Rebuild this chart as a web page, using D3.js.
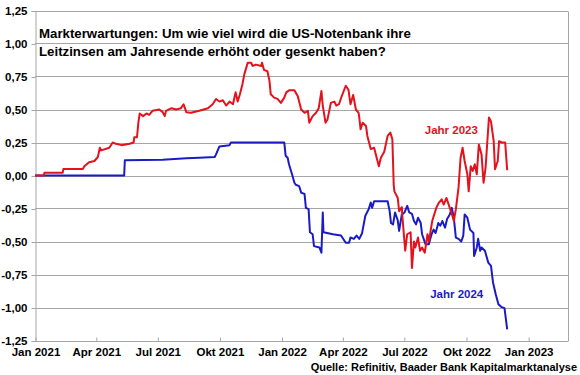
<!DOCTYPE html>
<html>
<head>
<meta charset="utf-8">
<script src="https://cdn.jsdelivr.net/npm/d3@7"></script>
<style>
  html, body { margin: 0; padding: 0; background: #fff; }
  svg { display: block; font-family: "Liberation Sans", Arial, sans-serif; }
</style>
</head>
<body>
<svg id="chart" width="580" height="375"></svg>
<script>
// ---- Data ----
const titleLines = [
  "Markterwartungen: Um wie viel wird die US-Notenbank ihre",
  "Leitzinsen am Jahresende erhöht oder gesenkt haben?"
];
const sourceText = "Quelle: Refinitiv, Baader Bank Kapitalmarktanalyse";

const yTicks = [1.25, 1.0, 0.75, 0.5, 0.25, 0, -0.25, -0.5, -0.75, -1.0, -1.25];
const xTickDates = ["2021-01-01","2021-04-01","2021-07-01","2021-10-01","2022-01-01",
                    "2022-04-01","2022-07-01","2022-10-01","2023-01-01"];
const xTickLabels = ["Jan 2021","Apr 2021","Jul 2021","Okt 2021","Jan 2022",
                     "Apr 2022","Jul 2022","Okt 2022","Jan 2023"];
const xDomain = ["2021-01-01", "2023-03-01"];
const yDomain = [-1.25, 1.25];

// Jahr 2023 (red)
const dates2023 = [
  "2021-01-01","2021-01-14","2021-01-15","2021-02-11","2021-02-12","2021-03-13","2021-03-15","2021-03-22",
  "2021-03-30","2021-04-04","2021-04-07","2021-04-09","2021-04-21","2021-04-26","2021-05-01","2021-05-09",
  "2021-05-21","2021-05-27","2021-05-28","2021-06-01","2021-06-03","2021-06-05","2021-06-10","2021-06-15",
  "2021-06-19","2021-06-24","2021-07-04","2021-07-09","2021-07-12","2021-07-14","2021-07-22","2021-07-29",
  "2021-08-05","2021-08-09","2021-08-13","2021-08-20","2021-09-01","2021-09-14","2021-09-21","2021-09-26",
  "2021-10-01","2021-10-06","2021-10-11","2021-10-16","2021-10-21","2021-10-25","2021-10-28","2021-10-31",
  "2021-11-04","2021-11-07","2021-11-12","2021-11-17","2021-11-19","2021-11-24","2021-12-02","2021-12-03",
  "2021-12-06","2021-12-11","2021-12-14","2021-12-16","2021-12-21","2021-12-26","2021-12-31","2022-01-05",
  "2022-01-08","2022-01-12","2022-01-20","2022-01-25","2022-01-30","2022-02-04","2022-02-09","2022-02-11",
  "2022-02-16","2022-02-21","2022-02-25","2022-03-01","2022-03-03","2022-03-07","2022-03-10","2022-03-15",
  "2022-03-20","2022-03-23","2022-03-27","2022-03-31","2022-04-06","2022-04-10","2022-04-13","2022-04-17",
  "2022-04-21","2022-04-25","2022-04-26","2022-04-28","2022-05-01","2022-05-06","2022-05-08","2022-05-13",
  "2022-05-18","2022-05-23","2022-05-25","2022-05-28","2022-06-02","2022-06-07","2022-06-11","2022-06-14",
  "2022-06-16","2022-06-17","2022-06-22","2022-06-24","2022-06-28","2022-06-29","2022-07-03","2022-07-06",
  "2022-07-11","2022-07-13","2022-07-16","2022-07-18","2022-07-22","2022-07-25","2022-07-28","2022-08-01",
  "2022-08-05","2022-08-07","2022-08-12","2022-08-18","2022-08-22","2022-08-26","2022-08-29","2022-09-02",
  "2022-09-06","2022-09-10","2022-09-13","2022-09-16","2022-09-20","2022-09-23","2022-09-26","2022-09-29",
  "2022-10-03","2022-10-05","2022-10-08","2022-10-11","2022-10-14","2022-10-17","2022-10-20","2022-10-24",
  "2022-10-27","2022-10-30","2022-11-04","2022-11-07","2022-11-11","2022-11-13","2022-11-17","2022-11-19",
  "2022-11-23","2022-11-28","2022-12-01"
];
const values2023 = [
  0.00,0.00,0.02,0.02,0.05,0.05,0.07,0.10,
  0.11,0.14,0.21,0.19,0.21,0.25,0.24,0.23,
  0.24,0.25,0.29,0.29,0.40,0.47,0.45,0.47,
  0.46,0.49,0.50,0.48,0.45,0.49,0.51,0.50,
  0.51,0.54,0.48,0.475,0.49,0.51,0.54,0.58,
  0.56,0.57,0.53,0.56,0.54,0.63,0.56,0.61,
  0.69,0.77,0.855,0.855,0.83,0.84,0.83,0.855,
  0.80,0.79,0.72,0.615,0.59,0.58,0.55,0.59,
  0.63,0.645,0.645,0.60,0.50,0.475,0.49,0.40,
  0.45,0.475,0.51,0.64,0.53,0.40,0.425,0.55,
  0.56,0.53,0.54,0.60,0.68,0.65,0.54,0.61,
  0.50,0.475,0.44,0.35,0.40,0.375,0.30,0.20,
  0.21,0.11,0.07,0.135,0.18,0.30,0.325,0.275,
  -0.07,-0.12,-0.17,-0.27,-0.24,-0.32,-0.57,-0.445,
  -0.43,-0.70,-0.50,-0.545,-0.47,-0.57,-0.545,-0.585,
  -0.445,-0.50,-0.345,-0.245,-0.205,-0.18,-0.22,-0.17,
  -0.23,-0.29,-0.345,-0.255,-0.09,0.135,0.21,0.11,
  0.01,-0.12,0.07,0.035,0.085,0.01,0.235,0.16,
  -0.055,0.06,0.44,0.41,0.26,0.047,0.11,0.26,
  0.25,0.25,0.04
];

// Jahr 2024 (blue)
const dates2024 = [
  "2021-01-01","2021-05-13","2021-05-14","2021-07-09","2021-08-13","2021-09-01","2021-09-24","2021-09-26",
  "2021-10-01","2021-10-16","2021-10-18","2022-01-05","2022-01-07","2022-01-10","2022-01-12","2022-01-17",
  "2022-01-20","2022-01-22","2022-01-27","2022-01-30","2022-02-04","2022-02-06","2022-02-10","2022-02-12",
  "2022-02-16","2022-02-18","2022-02-26","2022-03-01","2022-03-03","2022-03-04","2022-03-18","2022-03-30",
  "2022-04-06","2022-04-11","2022-04-13","2022-04-18","2022-04-22","2022-04-26","2022-04-30","2022-05-05",
  "2022-05-10","2022-05-13","2022-05-15","2022-05-18","2022-06-07","2022-06-10","2022-06-12","2022-06-15",
  "2022-06-18","2022-06-22","2022-06-24","2022-06-28","2022-07-02","2022-07-06","2022-07-09","2022-07-13",
  "2022-07-16","2022-07-19","2022-07-22","2022-07-26","2022-07-28","2022-08-02","2022-08-07","2022-08-11",
  "2022-08-14","2022-08-17","2022-08-21","2022-08-24","2022-08-27","2022-08-31","2022-09-03","2022-09-07",
  "2022-09-10","2022-09-13","2022-09-16","2022-09-20","2022-09-24","2022-09-27","2022-09-29","2022-10-03",
  "2022-10-07","2022-10-12","2022-10-13","2022-10-17","2022-10-19","2022-10-22","2022-10-24","2022-10-29",
  "2022-11-03","2022-11-07","2022-11-10","2022-11-14","2022-11-18","2022-11-22","2022-11-27","2022-12-01"
];
const values2024 = [
  0.00,0.00,0.115,0.12,0.13,0.135,0.14,0.16,
  0.22,0.23,0.25,0.25,0.15,0.135,0.085,0.00,
  -0.055,-0.07,-0.08,-0.13,-0.14,-0.245,-0.255,-0.43,
  -0.445,-0.535,-0.545,-0.585,-0.28,-0.43,-0.445,-0.455,
  -0.51,-0.51,-0.47,-0.48,-0.455,-0.48,-0.44,-0.305,
  -0.255,-0.205,-0.245,-0.195,-0.195,-0.27,-0.36,-0.37,
  -0.28,-0.34,-0.42,-0.295,-0.28,-0.23,-0.28,-0.29,
  -0.345,-0.37,-0.32,-0.36,-0.445,-0.52,-0.52,-0.445,
  -0.41,-0.435,-0.36,-0.38,-0.345,-0.395,-0.33,-0.295,
  -0.245,-0.32,-0.47,-0.48,-0.50,-0.455,-0.295,-0.32,
  -0.41,-0.435,-0.61,-0.545,-0.48,-0.57,-0.545,-0.57,
  -0.66,-0.685,-0.81,-0.90,-0.975,-0.995,-1.005,-1.165
];

const seriesNames = ["Jahr 2023", "Jahr 2024"];
const seriesColors = ["#e3121c", "#1b1bc6"];
const labelDates = ["2022-08-01", "2022-08-09"];
const labelValues = [0.317, -0.928];

// ---- Chart ----
const svg = d3.select("#chart");
const parse = d3.utcParse("%Y-%m-%d");
const margin = { left: 35, right: 12, top: 10.5, bottom: 34.5 };
const W = 580, H = 375;
const FONT = '"Liberation Sans", Arial, sans-serif';

const x = d3.scaleUtc()
  .domain(xDomain.map(parse))
  .range([margin.left, W - margin.right]);
const y = d3.scaleLinear()
  .domain(yDomain)
  .range([H - margin.bottom, margin.top]);

const grid = "#a6a6a6";
const fmt = v => d3.format(".2f")(v).replace(".", ",").replace("−", "-");

// gridlines
svg.append("g").selectAll("line").data(yTicks).join("line")
  .attr("x1", margin.left).attr("x2", W - margin.right)
  .attr("y1", d => Math.round(y(d)) + 0.5).attr("y2", d => Math.round(y(d)) + 0.5)
  .attr("stroke", grid).attr("stroke-width", 1);

// right border
svg.append("line")
  .attr("x1", W - margin.right + 0.5).attr("x2", W - margin.right + 0.5)
  .attr("y1", Math.round(y(1.25)) + 0.5).attr("y2", Math.round(y(-1.25)) + 0.5)
  .attr("stroke", grid);

// y axis
const yAxis = svg.append("g")
  .attr("transform", `translate(${margin.left + 0.5},0.5)`)
  .call(d3.axisLeft(y).tickValues(yTicks).tickFormat(fmt).tickSize(4).tickPadding(4));
yAxis.select(".domain").attr("stroke", grid);
yAxis.selectAll(".tick line").attr("stroke", grid);
yAxis.selectAll(".tick text")
  .attr("fill", "#000").style("font-size", "11.5px").style("font-weight", "bold")
  .style("font-family", FONT);

// x axis
const xAxis = svg.append("g")
  .attr("transform", `translate(0.5,${Math.round(y(-1.25)) + 0.5})`)
  .call(d3.axisBottom(x).tickValues(xTickDates.map(parse))
    .tickFormat((d, i) => xTickLabels[i]).tickSizeInner(-4).tickSizeOuter(0).tickPadding(6));
xAxis.select(".domain").remove();
xAxis.selectAll(".tick line").attr("stroke", grid);
xAxis.selectAll(".tick text")
  .attr("fill", "#000").style("font-size", "11.5px").style("font-weight", "bold")
  .style("font-family", FONT);

// lines
const line = d3.line()
  .x(d => x(d[0]))
  .y(d => y(d[1]));
const data2024 = dates2024.map((d, i) => [parse(d), values2024[i]]);
const data2023 = dates2023.map((d, i) => [parse(d), values2023[i]]);

svg.append("path").datum(data2024)
  .attr("d", line).attr("fill", "none")
  .attr("stroke", seriesColors[1]).attr("stroke-width", 2).attr("stroke-linejoin", "round");
svg.append("path").datum(data2023)
  .attr("d", line).attr("fill", "none")
  .attr("stroke", seriesColors[0]).attr("stroke-width", 2).attr("stroke-linejoin", "round");

// series labels
svg.append("g").selectAll("text").data(seriesNames).join("text")
  .attr("x", (d, i) => x(parse(labelDates[i])))
  .attr("y", (d, i) => y(labelValues[i]))
  .attr("fill", (d, i) => seriesColors[i])
  .style("font-size", "11.5px").style("font-weight", "bold")
  .text(d => d);

// title
svg.append("g").selectAll("text").data(titleLines).join("text")
  .attr("x", 39).attr("y", (d, i) => 38 + i * 17.5)
  .attr("fill", "#000")
  .style("font-size", "13.25px").style("font-weight", "bold")
  .text(d => d);

// source
svg.append("text")
  .attr("x", 577).attr("y", 371)
  .attr("text-anchor", "end")
  .attr("fill", "#000")
  .style("font-size", "11px").style("font-weight", "bold")
  .text(sourceText);
</script>
</body>
</html>
